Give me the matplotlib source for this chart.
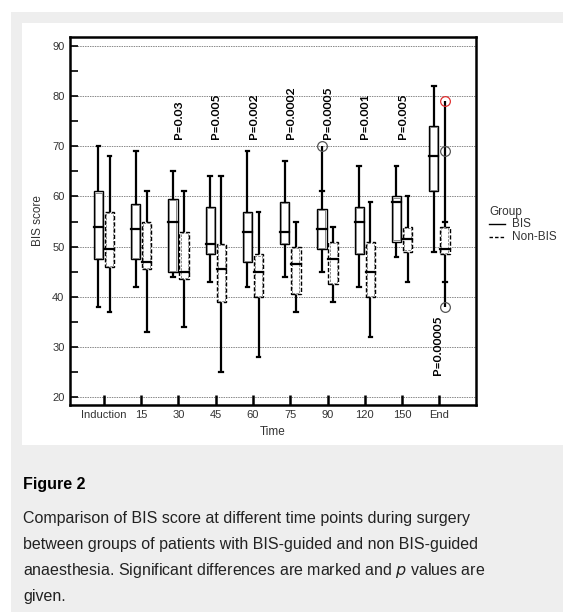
"""
BIS score by time point, BIS-guided vs non BIS-guided (box plot, figure 2)
"""

import numpy as np
import matplotlib.pyplot as plt
from matplotlib.patches import Rectangle

# データ
times = ['Induction', '15', '30', '45', '60', '75', '90', '120', '150', 'End']

# low whisker, q1, median, q3, high whisker
bis_low = [38, 42, 44, 43, 42, 44, 45, 42, 48, 49]
bis_q1 = [47.5, 47.5, 45, 48.5, 47, 50.5, 49.5, 48.5, 51, 61]
bis_med = [54, 53.5, 55, 50.5, 53, 53, 53.5, 55, 59, 68]
bis_q3 = [61, 58.5, 59.5, 58, 57, 59, 57.5, 58, 60, 74]
bis_high = [70, 69, 65, 64, 69, 67, 61, 66, 66, 82]

non_low = [37, 33, 34, 25, 28, 37, 39, 32, 43, 43]
non_q1 = [46, 45.5, 43.5, 39, 40, 40.5, 42.5, 40, 49, 48.5]
non_med = [49.5, 47, 45, 45.5, 45, 46.5, 47.5, 45, 51.5, 49.5]
non_q3 = [57, 55, 53, 50.5, 48.5, 50, 51, 51, 54, 54]
non_high = [68, 61, 61, 64, 57, 55, 54, 59, 60, 55]

# outliers: (time index, value)
bis_out = [(6, 70)]
non_out = [(9, 69), (9, 38)]
non_out_red = [(9, 79)]

p_labels = ['', '', 'P=0.03', 'P=0.005', 'P=0.002', 'P=0.0002', 'P=0.0005', 'P=0.001', 'P=0.005', '']
p_end = 'P=0.00005'

W, H = 563, 612
fig = plt.figure(figsize=(W / 100, H / 100), dpi=100)
fig.patch.set_facecolor('white')

# 背景パネル
fig.patches.append(Rectangle((11 / W, 0), 1, 1 - 12 / H, transform=fig.transFigure,
                             facecolor='#eeeeee', edgecolor='none', zorder=-10))
fig.patches.append(Rectangle((22 / W, 1 - 445 / H), 1, (445 - 23) / H, transform=fig.transFigure,
                             facecolor='white', edgecolor='none', zorder=-9))

ax = fig.add_axes([70 / W, 1 - 404.5 / H, (476 - 70) / W, (404.5 - 36.7) / H])
ax.set_facecolor('white')

narrow = ['Liberation Sans Narrow', 'Liberation Sans', 'DejaVu Sans']

x = np.arange(len(times))
off = 0.15
bw = 0.25
cap = 0.05


def draw_group(xs, low, q1, med, q3, high, outs, ls):
    for i, xc in enumerate(xs):
        vals = [low[i], high[i]] + [v for (k, v) in outs if k == i]
        ax.plot([xc, xc], [min(vals), max(vals)], color='black', lw=1.6, zorder=3,
                solid_capstyle='butt')
        for v in (low[i], high[i]):
            ax.plot([xc - cap, xc + cap], [v, v], color='black', lw=1.6, zorder=3)
        ax.add_patch(Rectangle((xc - bw / 2, q1[i]), bw, q3[i] - q1[i], facecolor='white',
                               edgecolor='black', lw=1.0, ls=ls, zorder=4))
        ax.add_patch(Rectangle((xc - bw / 2 + 0.03, q1[i] + 0.25), bw - 0.06, q3[i] - q1[i] - 0.5,
                               facecolor='none', edgecolor='#777777', lw=0.6, ls=ls, zorder=4))
        ax.plot([xc - bw / 2, xc + bw / 2], [med[i], med[i]], color='black', lw=1.6, zorder=5)


draw_group(x - off, bis_low, bis_q1, bis_med, bis_q3, bis_high, bis_out, '-')
draw_group(x + off, non_low, non_q1, non_med, non_q3, non_high, non_out + non_out_red, (0, (3, 1.5)))

for k, v in bis_out:
    ax.plot(x[k] - off, v, 'o', ms=7, mfc='none', mec='#555555', mew=0.9, zorder=6)
for k, v in non_out:
    ax.plot(x[k] + off, v, 'o', ms=7, mfc='none', mec='#555555', mew=0.9, zorder=6)
for k, v in non_out_red:
    ax.plot(x[k] + off, v, 'o', ms=7, mfc='none', mec='#e03030', mew=0.9, zorder=6)

# p値
for i, t in enumerate(p_labels):
    if t:
        ax.text(x[i], 71.4, t, rotation=90, ha='center', va='bottom', fontsize=8.8,
                family=['Lato', 'DejaVu Sans'], weight='bold')
ax.text(x[-1] - 0.05, 36.4, p_end, rotation=90, ha='center', va='top', fontsize=8.8,
        family=['Lato', 'DejaVu Sans'], weight='bold')

ax.set_xlim(-0.912, 9.985)
ax.set_ylim(18.6, 91.8)

for y in range(20, 91, 10):
    ax.axhline(y, color='#888888', lw=0.7, ls=(0, (1.5, 1)), zorder=1)

ax.set_xticks(x)
ax.set_xticklabels(times, family=narrow, fontsize=8, color='#333333')
ax.set_yticks(range(20, 91, 10))
ax.set_yticks(range(25, 90, 10), minor=True)
ax.set_yticklabels([str(v) for v in range(20, 91, 10)], family=narrow, fontsize=8, color='#333333')
ax.tick_params(axis='x', direction='in', length=7, width=1.8, pad=4, top=False)
ax.tick_params(axis='y', which='both', direction='in', length=6, width=1.2, pad=4, right=False)
for s in ax.spines.values():
    s.set_linewidth(1.8)

ax.set_xlabel('Time', family=narrow, fontsize=8.5, color='#333333', labelpad=4)
ax.set_ylabel('BIS score', family=narrow, fontsize=8.5, color='#333333', labelpad=6)

# 凡例
fig.text(489 / W, 1 - 212 / H, 'Group', family=narrow, fontsize=8.5, color='#333333', va='center')
fig.add_artist(plt.Line2D([489 / W, 505 / W], [1 - 224 / H, 1 - 224 / H], color='black', lw=1.0))
fig.add_artist(plt.Line2D([489 / W, 505 / W], [1 - 236.5 / H, 1 - 236.5 / H], color='black', lw=1.0,
                          ls=(0, (2.5, 1.5))))
fig.text(512 / W, 1 - 224 / H, 'BIS', family=narrow, fontsize=8.5, color='#333333', va='center')
fig.text(512 / W, 1 - 236.5 / H, 'Non-BIS', family=narrow, fontsize=8.5, color='#333333', va='center')

# キャプション
cap_font = ['Liberation Sans', 'DejaVu Sans']
fig.text(23 / W, 1 - 485 / H, 'Figure 2', family=cap_font, fontsize=11.5, weight='bold', va='center')
lines = ['Comparison of BIS score at different time points during surgery',
         'between groups of patients with BIS-guided and non BIS-guided',
         'anaesthesia. Significant differences are marked and $\\it{p}$ values are',
         'given.']
for j, t in enumerate(lines):
    fig.text(23 / W, 1 - (519 + 25.8 * j) / H, t, family=cap_font, fontsize=11.5, va='center',
             color='#222222')

plt.savefig('out.png', dpi=100)
